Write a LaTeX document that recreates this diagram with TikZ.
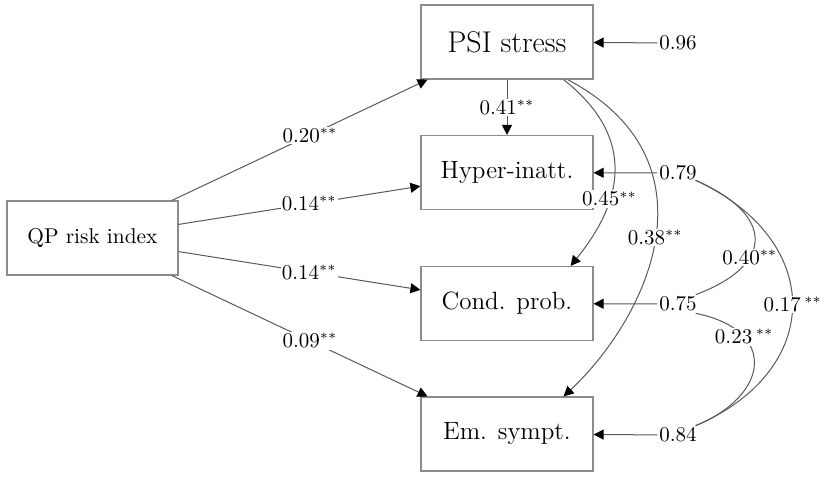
\documentclass[tikz,border=0pt]{standalone}
\usepackage{fontspec}
\usetikzlibrary{arrows.meta}
\begin{document}
\begin{tikzpicture}[x=0.5pt,y=-0.5pt,
  box/.style={draw=black!45, line width=0.6pt, minimum width=86pt, minimum height=37pt, inner sep=0pt, font=\fontsize{12.5}{15}\selectfont},
  reg/.style={draw=black!65, line width=0.5pt, -{Triangle[length=5pt,width=5pt,color=black,fill=black]}},
  cov/.style={draw=black!65, line width=0.5pt},
  lab/.style={fill=white, inner sep=0.6pt, font=\fontsize{10.5}{12}\selectfont},
  res/.style={inner sep=0.8pt, font=\fontsize{10.5}{12}\selectfont},
]
\useasboundingbox (0,0) rectangle (832,479);

\node[box, minimum width=85.5pt, font=\fontsize{10.7}{13}\selectfont] (qp) at (92.5,238) {QP risk index};
\node[box, font=\fontsize{15}{18}\selectfont] (psi) at (507,42) {PSI stress};
\node[box] (hyp) at (507,172.5) {Hyper-inatt.};
\node[box] (cond) at (507,303.5) {Cond. prob.};
\node[box] (em) at (507,434) {Em. sympt.};

\node[res] (r1) at (678,43) {0.96};
\node[res] (r2) at (678,173) {0.79};
\node[res] (r3) at (678,304) {0.75};
\node[res] (r4) at (678,435) {0.84};

\draw[reg] (qp) -- node[lab,pos=0.54]{0.20$^{**}$} (psi);
\draw[reg] (qp) -- node[lab,pos=0.54]{0.14$^{**}$} (hyp);
\draw[reg] (qp) -- node[lab,pos=0.54]{0.14$^{**}$} (cond);
\draw[reg] (qp) -- node[lab,pos=0.54]{0.09$^{**}$} (em);

\draw[reg] (psi) -- node[lab]{0.41$^{**}$} (hyp);

\draw[reg] ([xshift=-15pt]psi.south east) .. controls (640,140) and (620,205) .. node[lab,pos=0.64]{0.45$^{**}$} ([xshift=-11.5pt]cond.north east);
\draw[reg] ([xshift=-13pt]psi.south east) .. controls (720,160) and (650,315) .. node[lab,pos=0.5]{0.38$^{**}$} ([xshift=-15pt]em.north east);

\draw[reg] (r1) -- (psi);
\draw[reg] (r2) -- (hyp);
\draw[reg] (r3) -- (cond);
\draw[reg] (r4) -- (em);

\draw[cov] ([xshift=-1.5pt,yshift=1pt]r2.south east) .. controls (775,215) and (775,265) .. node[lab,pos=0.65]{0.40$^{**}$} ([xshift=-1.5pt]r3.north east);
\draw[cov] ([xshift=-1.5pt,yshift=1pt]r2.south east) .. controls (825,240) and (825,370) .. node[lab,pos=0.5]{0.17\,$^{**}$} ([xshift=-1.5pt]r4.north east);
\draw[cov] ([xshift=-1.5pt]r3.south east) .. controls (778,330) and (770,395) .. node[lab,pos=0.28]{0.23\,$^{**}$} ([xshift=-1.5pt]r4.north east);
\end{tikzpicture}
\end{document}
